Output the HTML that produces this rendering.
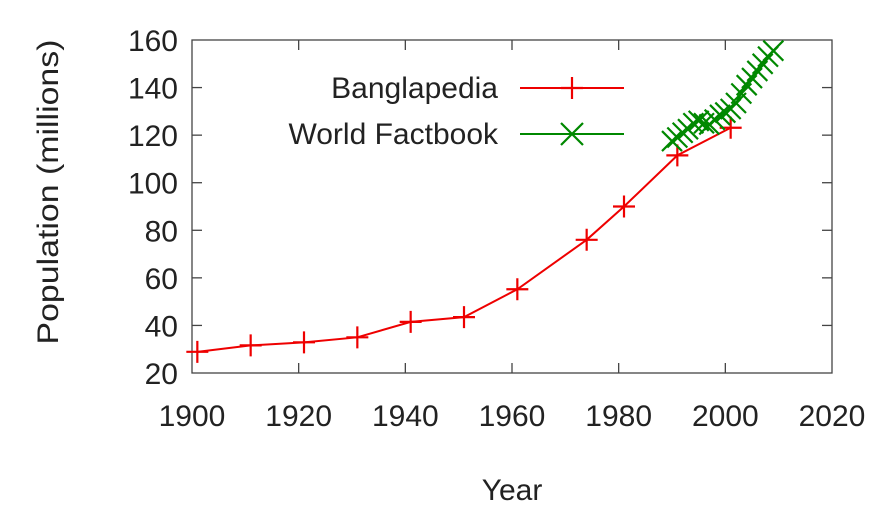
<!DOCTYPE html>
<html><head><meta charset="utf-8"><style>
html,body{margin:0;padding:0;background:#fff;}
svg text{font-family:"Liberation Sans",sans-serif;font-size:30px;fill:#222;}
</style></head><body>
<svg id="s" width="896" height="512" xmlns="http://www.w3.org/2000/svg"></svg>
<script>
const s=document.getElementById('s');
const X=y=>192+(y-1900)*640/120, Y=v=>373-(v-20)*333/140;
let h='';
h+='<rect x="192" y="40" width="640" height="333" fill="none" stroke="#444" stroke-width="1.3"/>';
for(let v=20;v<=160;v+=20){const y=Y(v);
 if(v>20&&v<160){h+=`<line x1="192" x2="202" y1="${y}" y2="${y}" stroke="#444" stroke-width="1.3"/><line x1="822" x2="832" y1="${y}" y2="${y}" stroke="#444" stroke-width="1.3"/>`;}
 h+=`<text x="178" y="${y+11}" text-anchor="end">${v}</text>`;}
for(let yr=1900;yr<=2020;yr+=20){const x=X(yr);
 if(yr>1900&&yr<2020){h+=`<line x1="${x}" x2="${x}" y1="373" y2="363" stroke="#444" stroke-width="1.3"/><line x1="${x}" x2="${x}" y1="40" y2="50" stroke="#444" stroke-width="1.3"/>`;}
 h+=`<text x="${x}" y="426" text-anchor="middle">${yr}</text>`;}
h+='<text x="512" y="500" text-anchor="middle">Year</text>';
h+='<text transform="translate(58,192) rotate(-90)" text-anchor="middle" textLength="305" lengthAdjust="spacingAndGlyphs">Population (millions)</text>';
const red=[[1901,28.9],[1911,31.6],[1921,32.9],[1931,35],[1941,41.5],[1951,43.5],[1961,55.2],[1974,76],[1981,90],[1991,111.5],[2001,123.1]];
const green=[[1990,117.5],[1991,119],[1992,121],[1993,122.5],[1994,125],[1995,126],[1996,125],[1997,124.5],[1998,126.5],[1999,128.5],[2000,129.5],[2001,131],[2002,133.5],[2003,137.5],[2004,141],[2005,144],[2006,147],[2007,150],[2008,153],[2009,155.5]];
h+=`<polyline fill="none" stroke="#e00" stroke-width="2" points="${red.map(p=>X(p[0])+','+Y(p[1])).join(' ')}"/>`;
red.forEach(p=>{const x=X(p[0]),y=Y(p[1]);h+=`<path d="M${x-11} ${y}H${x+11}M${x} ${y-11}V${y+11}" stroke="#e00" stroke-width="2.2"/>`;});
h+=`<polyline fill="none" stroke="#080" stroke-width="2" points="${green.map(p=>X(p[0])+','+Y(p[1])).join(' ')}"/>`;
green.forEach(p=>{const x=X(p[0]),y=Y(p[1]);h+=`<path d="M${x-10} ${y-10}L${x+10} ${y+10}M${x-10} ${y+10}L${x+10} ${y-10}" stroke="#080" stroke-width="2.2"/>`;});
h+='<text x="498" y="98" text-anchor="end">Banglapedia</text>';
h+='<line x1="520" x2="624" y1="88" y2="88" stroke="#e00" stroke-width="2"/><path d="M561 88H583M572 77V99" stroke="#e00" stroke-width="2.2"/>';
h+='<text x="498" y="144" text-anchor="end">World Factbook</text>';
h+='<line x1="520" x2="624" y1="134" y2="134" stroke="#080" stroke-width="2"/><path d="M561 123L583 145M561 145L583 123" stroke="#080" stroke-width="2.2"/>';
s.innerHTML=h;
</script>
</body></html>
